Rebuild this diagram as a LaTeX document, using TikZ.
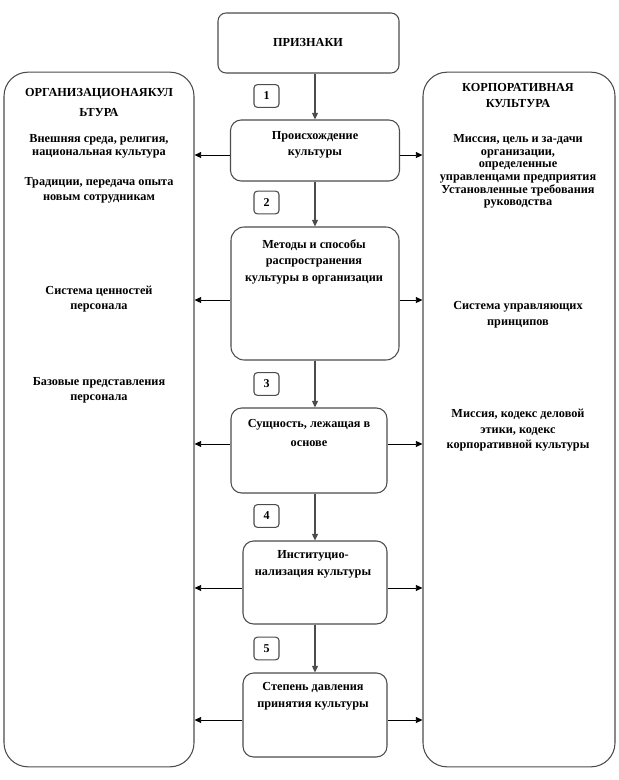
\documentclass[tikz,border=0pt]{standalone}
\usepackage{fontspec}
\setmainfont{Liberation Serif}
\usetikzlibrary{arrows.meta,calc}
\begin{document}
\begin{tikzpicture}[x=0.75pt,y=-0.75pt,
  box/.style={draw=black!70,line width=0.8pt,rounded corners=#1,inner sep=0pt},
  box/.default=8pt,
  txt/.style={font=\bfseries\fontsize{9.2}{#1}\selectfont,align=center,inner sep=0pt},
  txt/.default=9.75pt,
  vline/.style={draw=black!70,line width=1pt,-{Triangle[length=5pt,width=4.5pt]}},
  side/.style={draw=black,line width=0.7pt,-{Triangle[length=5pt,width=4.5pt]}}]
\useasboundingbox (0,0) rectangle (618,780);
% big side boxes
\node[box=18pt,minimum width=142.5pt,minimum height=521pt] (L) at (99,419.5) {};
\node[box=18pt,minimum width=144pt,minimum height=521pt] (R) at (519,419.5) {};
% central boxes
\node[box=6pt,minimum width=135.75pt,minimum height=45pt] (P) at (308.5,43) {};
\node[box=8pt,minimum width=126.75pt,minimum height=45.75pt] (b1) at (315,150.5) {};
\node[box=10pt,minimum width=126pt,minimum height=99.75pt] (b2) at (315,293.5) {};
\node[box=8pt,minimum width=117pt,minimum height=63.75pt] (b3) at (309,450.5) {};
\node[box=8pt,minimum width=108pt,minimum height=62.25pt] (b4) at (315,582.5) {};
\node[box=8pt,minimum width=108pt,minimum height=63pt] (b5) at (315,715) {};
% number boxes
\foreach \n/\yy in {1/96,2/202.5,3/384,4/516,5/648.5}
  \node[box=2.5pt,minimum width=18.75pt,minimum height=17pt,font=\bfseries\fontsize{9}{10}\selectfont] (n\n) at (266.5,\yy) {\n};
% texts
\node[txt] (tP) at (308,43) {ПРИЗНАКИ};
\node[txt=12pt] (t1) at (315,145) {Происхождение\\культуры};
\node[txt=12.4pt] (t2) at (314,261.5) {Методы и способы\\распространения\\культуры в организации};
\node[txt=14.25pt] (t3) at (309,432.5) {Сущность, лежащая в\\основе};
\node[txt=12.75pt] (t4) at (313,564.5) {Институцио-\\нализация культуры};
\node[txt=12.75pt] (t5) at (313,696.5) {Степень давления\\принятия культуры};
% left texts
\node[txt=15pt] (lT) at (99,103) {ОРГАНИЗАЦИОНАЯКУЛ\\ЬТУРА};
\node[txt=9.75pt] (l1) at (99,146.5) {Внешняя среда, религия,\\национальная культура};
\node[txt=11.25pt] (l2) at (99,190.5) {Традиции, передача опыта\\новым сотрудникам};
\node[txt=11.25pt] (l3) at (99,299.5) {Система ценностей\\персонала};
\node[txt=11.25pt] (l4) at (99,390.5) {Базовые представления\\персонала};
% right texts
\node[txt=12pt] (rT) at (518,96) {КОРПОРАТИВНАЯ\\КУЛЬТУРА};
\node[txt=9.45pt] (r1) at (518,171.5) {Миссия, цель и за-дачи\\организации,\\определенные\\управленцами предприятия\\Установленные требования\\руководства};
\node[txt=12pt] (r2) at (518,315) {Система управляющих\\принципов};
\node[txt=11.6pt] (r3) at (518,430.5) {Миссия, кодекс деловой\\этики, кодекс\\корпоративной культуры};
% vertical connectors
\draw[vline] (P.south -| b1.north) -- (b1.north);
\draw[vline] (b1.south) -- (b2.north);
\draw[vline] (b2.south) -- (b2.south |- b3.north);
\draw[vline] (b3.south -| b4.north) -- (b4.north);
\draw[vline] (b4.south) -- (b5.north);
% side connectors
\foreach \b/\s in {b1/-3.4pt,b2/-4.9pt,b3/4.9pt,b4/-4.1pt,b5/-3.75pt}{
  \draw[side] ([yshift=\s]\b.west) -- ([yshift=\s]\b.west -| L.east);
  \draw[side] ([yshift=\s]\b.east) -- ([yshift=\s]\b.east -| R.west);
}
\end{tikzpicture}
\end{document}
